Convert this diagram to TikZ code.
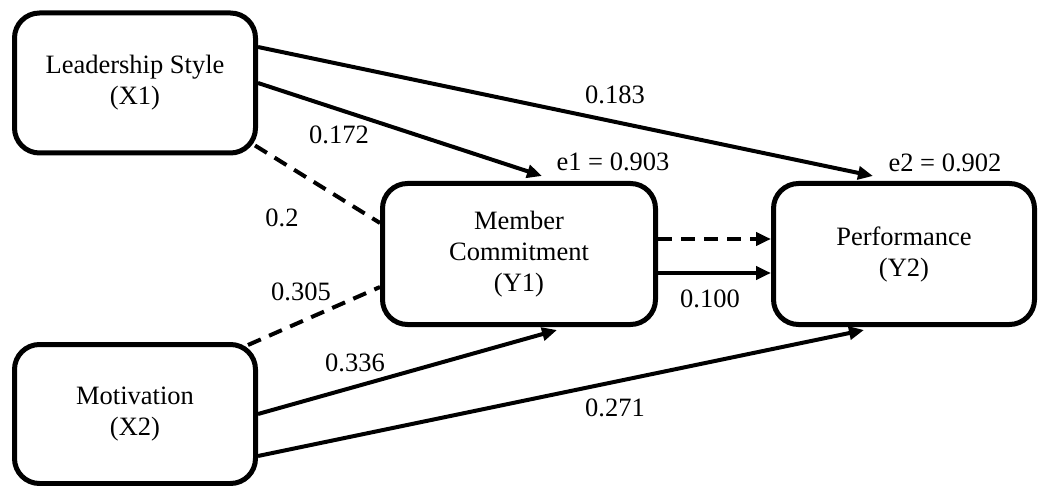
\documentclass[tikz,border=0pt]{standalone}
\usepackage{fontspec}
\setmainfont{Liberation Serif}
\usetikzlibrary{arrows.meta}
\begin{document}
\begin{tikzpicture}[x=1pt,y=-1pt,
  box/.style={draw, line width=5pt, rounded corners=25pt, align=center, inner sep=0pt, font=\fontsize{26.5}{31}\selectfont},
  lbl/.style={inner sep=0pt, font=\fontsize{26.5}{31}\selectfont},
  conn/.style={line width=4pt},
  arr/.style={conn, -{Triangle[length=15pt,width=13pt]}},
  dsh/.style={conn, dash pattern=on 14pt off 9pt}]
\useasboundingbox (0,0) rectangle (1038,486);
\node[box, minimum width=241pt, minimum height=140pt] (X1) at (135,83) {Leadership Style\\(X1)};
\node[box, minimum width=241pt, minimum height=139pt] (X2) at (135,414) {Motivation\\(X2)};
\node[box, minimum width=273pt, minimum height=141pt] (Y1) at (519,254) {Member\\Commitment\\(Y1)};
\node[box, minimum width=261pt, minimum height=141pt] (Y2) at (904,254) {Performance\\(Y2)};

\draw[arr] ([yshift=36pt]X1.east) -- ([xshift=-31pt,yshift=5pt]Y2.north);
\draw[arr] (X1.east) -- ([xshift=23pt,yshift=5pt]Y1.north);
\draw[dsh] ([xshift=-3pt,yshift=10pt]X1.south east) -- ([yshift=31pt]Y1.west);
\draw[dsh] ([xshift=-10pt,yshift=-3pt]X2.north east) -- ([yshift=-33pt]Y1.west);
\draw[arr] (X2.east) -- ([xshift=38pt,yshift=-3pt]Y1.south);
\draw[arr] ([yshift=-42pt]X2.east) -- ([xshift=-40pt,yshift=-3pt]Y2.south);
\draw[dsh, -{Triangle[length=15pt,width=13pt]}] ([yshift=15pt]Y1.east) -- ([yshift=15pt]Y2.west);
\draw[arr] ([yshift=-19pt]Y1.east) -- ([yshift=-19pt]Y2.west);

\node[lbl] (l183) at (615,95) {0.183};
\node[lbl] (l172) at (339,135) {0.172};
\node[lbl] (le1) at (613,162) {e1 = 0.903};
\node[lbl] (le2) at (945,163) {e2 = 0.902};
\node[lbl] (l02) at (282,218) {0.2};
\node[lbl] (l305) at (301,292) {0.305};
\node[lbl] (l100) at (710,299) {0.100};
\node[lbl] (l336) at (355,363) {0.336};
\node[lbl] (l271) at (615,408) {0.271};
\end{tikzpicture}
\end{document}
